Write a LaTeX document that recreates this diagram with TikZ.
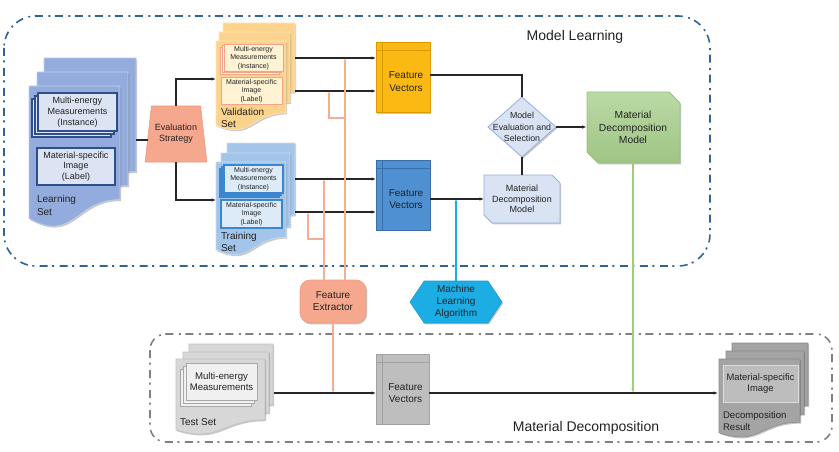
\documentclass[tikz,border=0pt]{standalone}
\usepackage{fontspec}
\setmainfont{Liberation Sans}
\usetikzlibrary{arrows.meta,shadows,shapes.geometric,shapes.symbols,calc}

\definecolor{txtc}{HTML}{222222}
\definecolor{mlframe}{HTML}{2F6497}
\definecolor{mdframe}{HTML}{808080}
\definecolor{lsfill}{HTML}{93ABDD}
\definecolor{lsdraw}{HTML}{C2D0EC}
\definecolor{lsin}{HTML}{DCE4F4}
\definecolor{lsbd}{HTML}{2F4E8C}
\definecolor{vsfill}{HTML}{FCD38C}
\definecolor{vsdraw}{HTML}{FEE8C0}
\definecolor{vsin}{HTML}{FFF3D4}
\definecolor{vsbd}{HTML}{F2A488}
\definecolor{tsfill}{HTML}{A3C5EA}
\definecolor{tsdraw}{HTML}{C9DDF3}
\definecolor{tsin}{HTML}{DDEBF8}
\definecolor{tsbd}{HTML}{3A87D0}
\definecolor{fvy}{HTML}{FDB913}
\definecolor{fvyd}{HTML}{D99A00}
\definecolor{fvb}{HTML}{4E90D1}
\definecolor{fvbd}{HTML}{3A6FA8}
\definecolor{fvg}{HTML}{BEBEBE}
\definecolor{fvgd}{HTML}{A2A2A2}
\definecolor{lbl}{HTML}{DAE3F3}
\definecolor{lbld}{HTML}{97AEDA}
\definecolor{grn}{HTML}{A9D18E}
\definecolor{grnd}{HTML}{95C078}
\definecolor{grnline}{HTML}{9FCB82}
\definecolor{salf}{HTML}{F5A88E}
\definecolor{sald}{HTML}{F09C7F}
\definecolor{salline}{HTML}{F4AE94}
\definecolor{mlc}{HTML}{1DADE5}
\definecolor{mlcd}{HTML}{1A9BD0}
\definecolor{tgf}{HTML}{D7D7D7}
\definecolor{tgd}{HTML}{C2C2C2}
\definecolor{tgin}{HTML}{F0F0F0}
\definecolor{tgbd}{HTML}{A8A8A8}
\definecolor{drf}{HTML}{A4A4A4}
\definecolor{drd}{HTML}{8A8A8A}
\definecolor{drin}{HTML}{BDBDBD}
\definecolor{drbd}{HTML}{DCDCDC}

\newcommand\fsz[2]{\fontsize{#1}{#2}\selectfont}
% document shape: style, x1, y1, x2, h
\newcommand\mydoc[5]{\path[#1] (#2,#3) -- (#4,#3) -- (#4,{#3+0.8*#5}) .. controls ({(#2+#4)/2},{#3+0.8*#5}) and ({(#2+#4)/2},{#3+1.1075*#5}) .. (#2,{#3+0.934*#5}) -- cycle;}
% snipped box (top right and bottom left): style, x1, y1, x2, y2, cut
\newcommand\snipbox[6]{\path[#1] (#2,#3) -- ({#4-#6},#3) -- (#4,{#3+#6}) -- (#4,#5) -- ({#2+#6},#5) -- (#2,{#5-#6}) -- cycle;}

\tikzset{
  every node/.style={inner sep=0pt, outer sep=0pt, align=center, text=txtc},
  shd/.style={drop shadow={opacity=0.22, shadow xshift=1.2pt, shadow yshift=-1.4pt, fill=black}},
  frame/.style={line width=1.6pt, dash pattern=on 8pt off 4.5pt on 2pt off 5.5pt},
  tip/.style={-{Latex[length=4.5pt,width=3.6pt]}},
  bline/.style={line width=1.2pt, draw=black!85},
  arr/.style={bline, tip},
  salarr/.style={line width=1.2pt, draw=salline, -{Latex[length=4pt,width=3.2pt]}},
  lsdoc/.style={fill=lsfill, draw=lsdraw, line width=0.6pt, shd},
  vsdoc/.style={fill=vsfill, draw=vsdraw, line width=0.6pt, shd},
  tsdoc/.style={fill=tsfill, draw=tsdraw, line width=0.6pt, shd},
  tgdoc/.style={fill=tgf, draw=tgd, line width=0.6pt, shd},
  drdoc/.style={fill=drf, draw=drd, line width=0.6pt, shd},
  lsbox/.style={fill=lsin, draw=lsbd, line width=1.1pt},
  vsbox/.style={fill=vsin, draw=vsbd, line width=1pt},
  tsbox/.style={fill=tsin, draw=tsbd, line width=1.1pt},
  tgbox/.style={fill=tgin, draw=tgbd, line width=0.9pt},
  drbox/.style={fill=drin, draw=drbd, line width=1pt},
  fvbox/.style={minimum width=54pt, minimum height=70pt, line width=0.8pt, shd},
}

\begin{document}
\begin{tikzpicture}[x=1pt,y=-1pt]
\useasboundingbox (0,0) rectangle (839,452);

% ---------- frames ----------
\draw[frame, draw=mlframe, rounded corners=32pt] (4,16) rectangle (710,266);
\draw[frame, draw=mdframe, rounded corners=16pt] (150,334) rectangle (832,442);
\node[font=\fsz{14}{16}] (mltitle) at (575,37) {Model Learning};
\node[font=\fsz{14}{16}] (mdtitle) at (586,428) {Material Decomposition};

% ---------- Learning set ----------
\mydoc{lsdoc}{44}{58}{136}{142}
\mydoc{lsdoc}{37}{72}{128}{142}
\mydoc{lsdoc}{29}{86}{120}{142}
\draw[lsbox] (32,99) rectangle (111,137);
\draw[lsbox] (35,96) rectangle (114,134);
\node[lsbox, minimum width=79pt, minimum height=38pt, font=\fsz{9}{10.8}] (lsinst) at (77.5,112) {Multi-energy\\Measurements\\(Instance)};
\node[lsbox, minimum width=78pt, minimum height=37pt, font=\fsz{9}{10.8}] (lslab) at (76,166.5) {Material-specific\\Image\\(Label)};
\node[anchor=west, align=left, font=\fsz{10}{12.5}] (lstxt) at (37,205.5) {Learning\\Set};
\coordinate (lsE) at (136,140);

% ---------- Evaluation strategy ----------
\node[trapezium, trapezium left angle=74.5, trapezium right angle=74.5, trapezium stretches=true,
      minimum width=62pt, minimum height=56pt, fill=salf, draw=sald, line width=0.6pt,
      font=\fsz{9}{11}] (es) at (176,134) {Evaluation\\Strategy};

% ---------- Validation set ----------
\mydoc{vsdoc}{223}{23}{295}{86}
\mydoc{vsdoc}{219}{32}{290}{88}
\mydoc{vsdoc}{216}{41}{286}{90}
\draw[vsbox] (220,48) rectangle (279,75);
\draw[vsbox] (222,46) rectangle (281,73);
\node[vsbox, minimum width=59pt, minimum height=27pt, font=\fsz{7}{8.4}] (vinst) at (253.5,58) {Multi-energy\\Measurements\\(Instance)};
\node[vsbox, minimum width=61pt, minimum height=27pt, font=\fsz{7}{8.4}] (vlab) at (251.5,91) {Material-specific\\Image\\(Label)};
\node[anchor=west, align=left, font=\fsz{10}{11.5}] (vstxt) at (221,118) {Validation\\Set};
\coordinate (vsW) at (216,79);
\coordinate (vsE) at (295,0);

% ---------- Training set ----------
\mydoc{tsdoc}{227}{143}{295}{90}
\mydoc{tsdoc}{221}{153}{290}{92}
\mydoc{tsdoc}{216}{162}{286}{94}
\draw[tsbox] (220,169) rectangle (279,197);
\draw[tsbox] (222,167) rectangle (281,195);
\node[tsbox, minimum width=59pt, minimum height=28pt, font=\fsz{7}{8.4}] (tinst) at (253.5,179) {Multi-energy\\Measurements\\(Instance)};
\node[tsbox, minimum width=61pt, minimum height=28pt, font=\fsz{7}{8.4}] (tlab) at (251.5,214) {Material-specific\\Image\\(Label)};
\node[anchor=west, align=left, font=\fsz{10}{11.5}] (tstxt) at (221,242) {Training\\Set};
\coordinate (tsW) at (216,200);
\coordinate (tsE) at (295,0);

% ---------- Feature vectors ----------
\node[fvbox, fill=fvy, draw=fvyd] (fvY) at (403,77.5) {};
\node[fvbox, fill=fvb, draw=fvbd] (fvB) at (403,195) {};
\node[fvbox, minimum width=53pt, fill=fvg, draw=fvgd] (fvG) at (402.5,389) {};
\foreach \n/\c in {fvY/fvyd, fvB/fvbd, fvG/fvgd}{
  \draw[\c, line width=0.6pt] ([yshift=-8pt]\n.north west) -- ([yshift=-8pt]\n.north east);
  \draw[\c, line width=0.6pt] ([xshift=6pt]\n.north west) -- ([xshift=6pt]\n.south west);
}
\node[font=\fsz{10}{12.5}] (fvYt) at ([xshift=3pt,yshift=-4pt]fvY.center) {Feature\\Vectors};
\node[font=\fsz{10}{12.5}] (fvBt) at ([xshift=3pt,yshift=-4pt]fvB.center) {Feature\\Vectors};
\node[font=\fsz{10}{12.5}] (fvGt) at ([xshift=3pt,yshift=-4pt]fvG.center) {Feature\\Vectors};

% ---------- Evaluation / models ----------
\node[diamond, minimum width=68pt, minimum height=60pt, fill=lbl, draw=lbld, line width=0.8pt, shd] (dia) at (522,127) {};
\node[font=\fsz{8.8}{11.3}] (diat) at (522,127) {Model\\Evaluation and\\Selection};
\snipbox{fill=lbl, draw=lbld, line width=0.8pt, shd}{484}{175}{560}{223}{8}
\node[minimum width=76pt, minimum height=48pt, font=\fsz{9}{10.6}] (md) at (522,199) {Material\\Decomposition\\Model};
\snipbox{top color=grn!80!white, bottom color=grn!94!black, draw=grnd, line width=0.8pt, shd}{587}{92}{680}{163}{11}
\node[minimum width=93pt, minimum height=71pt, font=\fsz{10.3}{12.5}] (gm) at (633,127.5) {Material\\Decomposition\\Model};

% ---------- Extractor and ML algorithm ----------
\node[rounded corners=10pt, minimum width=66pt, minimum height=43pt, fill=salf, draw=sald, line width=0.6pt, shd,
      font=\fsz{10}{12}] (fe) at (333,301.5) {Feature\\Extractor};
\node[signal, signal to=east and west, signal pointer angle=112, minimum width=92pt, minimum height=42pt,
      fill=mlc, draw=mlcd, line width=0.6pt, shd, font=\fsz{10}{12}] (ml) at (456,302) {Machine\\Learning\\Algorithm};

% ---------- Test set ----------
\mydoc{tgdoc}{189}{344}{273}{76}
\mydoc{tgdoc}{183}{352}{269}{76}
\mydoc{tgdoc}{176}{359}{265}{76}
\draw[tgbox] (180,369) rectangle (251,406);
\draw[tgbox] (183,366) rectangle (254,403);
\node[tgbox, minimum width=71pt, minimum height=37pt, font=\fsz{9.6}{11.5}] (tginst) at (221.5,381.5) {Multi-energy\\Measurements};
\node[anchor=west, font=\fsz{10}{12}] (tgtxt) at (180,422) {Test Set};
\coordinate (tl) at (274,393);

% ---------- Decomposition result ----------
\mydoc{drdoc}{732}{343}{808}{78}
\mydoc{drdoc}{726}{351}{804}{79}
\mydoc{drdoc}{719}{359}{800}{79}
\node[drbox, minimum width=75pt, minimum height=37pt, font=\fsz{9.4}{11.5}] (drin) at (760.5,383.5) {Material-specific\\Image};
\node[anchor=west, align=left, font=\fsz{9.6}{12}] (drtxt) at (723,421) {Decomposition\\Result};
\coordinate (drW) at (718,0);

% ---------- connectors ----------
\draw[bline] (lsE) -- (lsE -| es.west);
\draw[arr] (es.north) |- (vsW);
\draw[arr] (es.south) |- (tsW);
\draw[arr] (vinst.center -| vsE) -- (vinst.center -| fvY.west);
\draw[arr] (vlab.center -| vsE) -- (vlab.center -| fvY.west);
\draw[arr] (tinst.center -| tsE) -- (tinst.center -| fvB.west);
\draw[arr] ([yshift=2pt]tlab.center -| tsE) -- ([yshift=2pt]tlab.center -| fvB.west);
\draw[bline] ([yshift=2.5pt]fvY.east) -| (dia.north);
\draw[arr] (dia.east) -- (dia.east -| gm.west);
\draw[bline] (dia.south) -- (md.north);
\draw[arr] (md.west -| fvB.east) -- (md.west);
\draw[line width=1.3pt, draw=mlc, -{Latex[length=4pt,width=3.2pt]}] (ml.north) -- (ml.north |- md.west);

% salmon feature extractor lines
\coordinate (feA) at (345,280);
\coordinate (feB) at (324,280);
\coordinate (brA) at (345,118);
\coordinate (brAx) at (329,0);
\coordinate (brB) at (324,239);
\coordinate (brBx) at (308,0);
\draw[salarr] (feA) -- (feA |- vinst.center);
\draw[salarr] (brA) -| (brAx |- vlab.center);
\draw[salarr] (feB) -- (feB |- tinst.center);
\draw[salarr] (brB) -| ([yshift=2pt]brBx |- tlab.center);
\draw[salarr] (fe.south) -- (fe.south |- tl);

% bottom flow
\draw[arr] (tl) -- (tl -| fvG.west);
\draw[arr] (fvG.east |- tl) -- (drW |- tl);
\draw[line width=1.8pt, draw=grnline, -{Latex[length=4.5pt,width=3.6pt]}] (gm.south) -- (gm.south |- tl);
\end{tikzpicture}
\end{document}
